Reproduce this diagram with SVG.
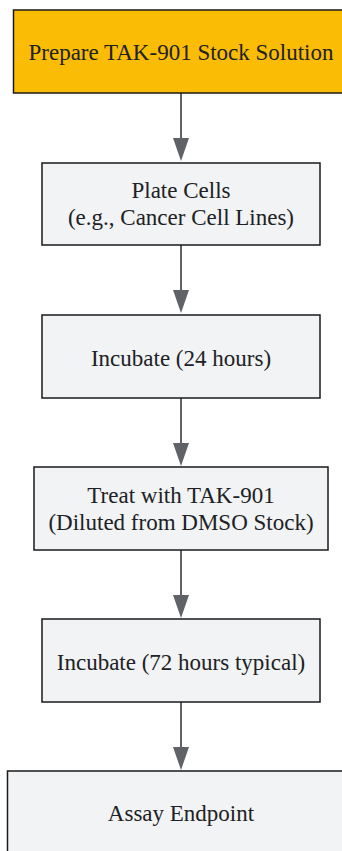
<svg xmlns="http://www.w3.org/2000/svg" width="342" height="851" viewBox="0 0 342 851">
<style>
.box{fill:#F1F3F4;stroke:#1a1a1a;stroke-width:1.5}
.start{fill:#FBBC05;stroke:#1a1a1a;stroke-width:1.5}
text{font-family:"Liberation Serif","Times New Roman",serif;font-size:23px;fill:#202124;text-anchor:middle}
.edge{stroke:#5F6368;stroke-width:2;fill:none}
.head{fill:#5F6368}
</style>
<rect width="342" height="851" fill="#ffffff"/>
<g id="connectors">
<line class="edge" x1="181" y1="93" x2="181" y2="140"/>
<polygon class="head" points="173,138 189,138 181,161"/>
<line class="edge" x1="181" y1="245" x2="181" y2="292"/>
<polygon class="head" points="173,290 189,290 181,313"/>
<line class="edge" x1="181" y1="398" x2="181" y2="445"/>
<polygon class="head" points="173,443 189,443 181,466"/>
<line class="edge" x1="181" y1="550" x2="181" y2="597"/>
<polygon class="head" points="173,595 189,595 181,618"/>
<line class="edge" x1="181" y1="702" x2="181" y2="749"/>
<polygon class="head" points="173,747 189,747 181,770"/>
</g>
<g id="node1">
<rect class="start" x="13.5" y="10" width="335" height="83"/>
<text x="181" y="60">Prepare TAK-901 Stock Solution</text>
</g>
<g id="node2">
<rect class="box" x="42" y="163" width="278" height="82"/>
<text x="181" y="198">Plate Cells</text>
<text x="181" y="225">(e.g., Cancer Cell Lines)</text>
</g>
<g id="node3">
<rect class="box" x="42" y="315" width="278" height="83"/>
<text x="181" y="366">Incubate (24 hours)</text>
</g>
<g id="node4">
<rect class="box" x="34" y="467" width="294" height="83"/>
<text x="181" y="503">Treat with TAK-901</text>
<text x="181" y="530">(Diluted from DMSO Stock)</text>
</g>
<g id="node5">
<rect class="box" x="42" y="619" width="278" height="83"/>
<text x="181" y="670">Incubate (72 hours typical)</text>
</g>
<g id="node6">
<rect class="box" x="7.5" y="771" width="347" height="83"/>
<text x="181" y="821">Assay Endpoint</text>
</g>
</svg>
